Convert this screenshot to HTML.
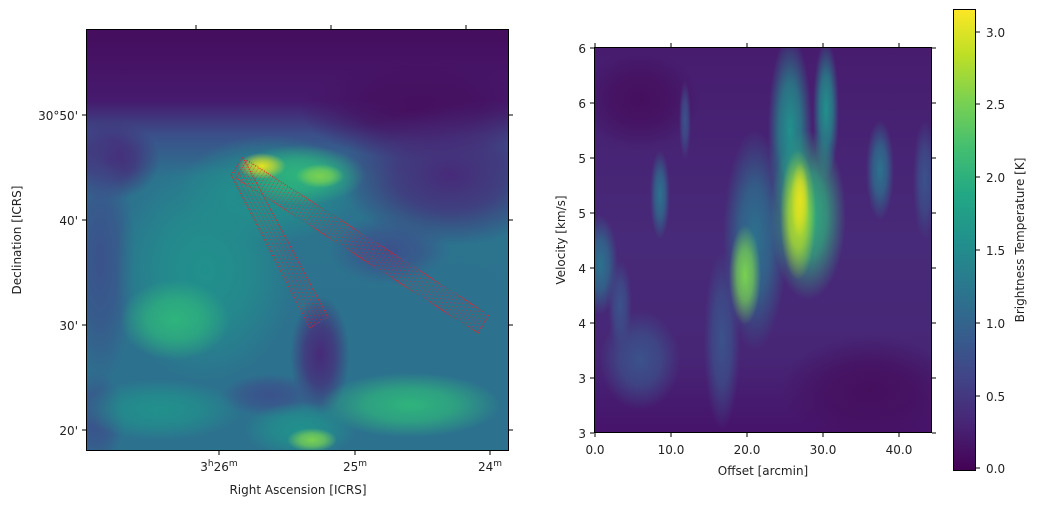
<!DOCTYPE html>
<html><head><meta charset="utf-8"><style>
body{margin:0;background:#fff;}
text{font-family:"DejaVu Sans","Liberation Sans",sans-serif;font-size:12px;fill:#222;}
</style></head><body>
<svg width="1037" height="506" viewBox="0 0 1037 506" xmlns="http://www.w3.org/2000/svg">
<defs>
<clipPath id="cl"><rect x="86" y="29" width="423" height="422"/></clipPath>
<clipPath id="cr"><rect x="594" y="47" width="338" height="386"/></clipPath>
<linearGradient id="cb" x1="0" y1="1" x2="0" y2="0">
<stop offset="0" stop-color="#440154"/><stop offset="0.1" stop-color="#482475"/><stop offset="0.2" stop-color="#414487"/>
<stop offset="0.3" stop-color="#355f8d"/><stop offset="0.4" stop-color="#2a788e"/><stop offset="0.5" stop-color="#21918c"/>
<stop offset="0.6" stop-color="#22a884"/><stop offset="0.7" stop-color="#44bf70"/><stop offset="0.8" stop-color="#7ad151"/>
<stop offset="0.9" stop-color="#bddf26"/><stop offset="1" stop-color="#fde725"/></linearGradient>
<linearGradient id="lbg" x1="0" y1="0" x2="0" y2="1">
<stop offset="0" stop-color="#450d5d"/><stop offset="0.17" stop-color="#461a6e"/><stop offset="0.25" stop-color="#3b4f8a"/><stop offset="0.35" stop-color="#2c738e"/><stop offset="1" stop-color="#2c728e"/></linearGradient>
<linearGradient id="rbg" x1="0" y1="0" x2="0" y2="1">
<stop offset="0" stop-color="#471c6f"/><stop offset="0.5" stop-color="#472a79"/><stop offset="0.8" stop-color="#472676"/><stop offset="1" stop-color="#46136a"/></linearGradient>
<radialGradient id="gDark"><stop offset="0" stop-color="#450f5e"/><stop offset="0.5" stop-color="#450f5e" stop-opacity="0.7"/><stop offset="1" stop-color="#450f5e" stop-opacity="0"/></radialGradient>
<radialGradient id="gPur"><stop offset="0" stop-color="#472a79"/><stop offset="0.5" stop-color="#472a79" stop-opacity="0.7"/><stop offset="1" stop-color="#472a79" stop-opacity="0"/></radialGradient>
<radialGradient id="gInd"><stop offset="0" stop-color="#3b528b"/><stop offset="0.5" stop-color="#3b528b" stop-opacity="0.7"/><stop offset="1" stop-color="#3b528b" stop-opacity="0"/></radialGradient>
<radialGradient id="gBlu"><stop offset="0" stop-color="#2c728e"/><stop offset="0.5" stop-color="#2c728e" stop-opacity="0.7"/><stop offset="1" stop-color="#2c728e" stop-opacity="0"/></radialGradient>
<radialGradient id="gTeal"><stop offset="0" stop-color="#21918c"/><stop offset="0.5" stop-color="#21918c" stop-opacity="0.7"/><stop offset="1" stop-color="#21918c" stop-opacity="0"/></radialGradient>
<radialGradient id="gGrn"><stop offset="0" stop-color="#2fb47c"/><stop offset="0.5" stop-color="#2fb47c" stop-opacity="0.7"/><stop offset="1" stop-color="#2fb47c" stop-opacity="0"/></radialGradient>
<radialGradient id="gLg"><stop offset="0" stop-color="#7ad151"/><stop offset="0.5" stop-color="#7ad151" stop-opacity="0.7"/><stop offset="1" stop-color="#7ad151" stop-opacity="0"/></radialGradient>
<radialGradient id="gYg"><stop offset="0" stop-color="#bddf26"/><stop offset="0.5" stop-color="#bddf26" stop-opacity="0.7"/><stop offset="1" stop-color="#bddf26" stop-opacity="0"/></radialGradient>
<radialGradient id="gYel"><stop offset="0" stop-color="#e6e21f"/><stop offset="0.5" stop-color="#e6e21f" stop-opacity="0.6"/><stop offset="1" stop-color="#e6e21f" stop-opacity="0"/></radialGradient>
<pattern id="hA" width="3.5" height="4" patternUnits="userSpaceOnUse" patternTransform="rotate(-28)"><line x1="0" y1="0" x2="0" y2="4" stroke="#ee1c24" stroke-width="1" stroke-dasharray="1,1"/></pattern>
<pattern id="hB" width="3.5" height="4" patternUnits="userSpaceOnUse" patternTransform="rotate(33)"><line x1="0" y1="0" x2="0" y2="4" stroke="#ee1c24" stroke-width="1" stroke-dasharray="1,1"/></pattern>
</defs>
<!-- left map -->
<g clip-path="url(#cl)">
<rect x="86" y="29" width="423" height="422" fill="url(#lbg)"/>
<ellipse cx="420" cy="110" rx="120" ry="50" fill="url(#gDark)"/>
<ellipse cx="450" cy="175" rx="110" ry="70" fill="url(#gPur)"/>
<ellipse cx="110" cy="160" rx="50" ry="40" fill="url(#gPur)"/>
<ellipse cx="100" cy="260" rx="35" ry="130" fill="url(#gInd)"/>
<ellipse cx="95" cy="420" rx="30" ry="50" fill="url(#gInd)"/>
<ellipse cx="205" cy="270" rx="90" ry="110" fill="url(#gTeal)"/>
<ellipse cx="175" cy="320" rx="55" ry="40" fill="url(#gGrn)"/>
<ellipse cx="270" cy="190" rx="90" ry="55" fill="url(#gTeal)"/>
<ellipse cx="300" cy="175" rx="65" ry="30" fill="url(#gGrn)"/>
<ellipse cx="390" cy="250" rx="60" ry="35" fill="url(#gInd)"/>
<ellipse cx="460" cy="300" rx="70" ry="50" fill="url(#gBlu)"/>
<ellipse cx="320" cy="355" rx="30" ry="60" fill="url(#gPur)"/>
<ellipse cx="270" cy="395" rx="50" ry="22" fill="url(#gInd)"/>
<ellipse cx="410" cy="405" rx="90" ry="32" fill="url(#gGrn)"/>
<ellipse cx="300" cy="430" rx="55" ry="28" fill="url(#gTeal)"/>
<ellipse cx="160" cy="410" rx="80" ry="30" fill="url(#gTeal)"/>
<ellipse cx="262" cy="166" rx="24" ry="13" fill="url(#gYel)"/>
<ellipse cx="320" cy="176" rx="24" ry="12" fill="url(#gLg)"/>
<ellipse cx="312" cy="440" rx="25" ry="12" fill="url(#gLg)"/>
<polygon points="231,175 243,157 328,317 310,328" fill="url(#hA)" stroke="#ee1c24" stroke-width="0.9" stroke-dasharray="1,1.5"/>
<polygon points="247,160 489,315 478,333 236,178" fill="url(#hB)" stroke="#ee1c24" stroke-width="0.9" stroke-dasharray="1,1.5"/>
</g>
<rect x="86.5" y="29.5" width="422" height="421" fill="none" stroke="#000" stroke-width="1"/>
<g stroke="#000" stroke-width="1">
<line x1="86" y1="115" x2="82" y2="115"/><line x1="86" y1="220" x2="82" y2="220"/><line x1="86" y1="325" x2="82" y2="325"/><line x1="86" y1="430" x2="82" y2="430"/>
<line x1="509" y1="115" x2="513" y2="115"/><line x1="509" y1="220" x2="513" y2="220"/><line x1="509" y1="325" x2="513" y2="325"/><line x1="509" y1="430" x2="513" y2="430"/>
<line x1="219" y1="451" x2="219" y2="455"/><line x1="355" y1="451" x2="355" y2="455"/><line x1="490" y1="451" x2="490" y2="455"/>
<line x1="196" y1="29" x2="196" y2="25"/><line x1="331" y1="29" x2="331" y2="25"/><line x1="466" y1="29" x2="466" y2="25"/>
</g>
<text x="78" y="120" text-anchor="end">30°50'</text>
<text x="78" y="225" text-anchor="end">40'</text>
<text x="78" y="330" text-anchor="end">30'</text>
<text x="78" y="435" text-anchor="end">20'</text>
<text x="219" y="471" text-anchor="middle">3<tspan font-size="9" dy="-5">h</tspan><tspan dy="5">26</tspan><tspan font-size="9" dy="-5">m</tspan></text>
<text x="355" y="471" text-anchor="middle">25<tspan font-size="9" dy="-5">m</tspan></text>
<text x="490" y="471" text-anchor="middle">24<tspan font-size="9" dy="-5">m</tspan></text>
<text x="298" y="494" text-anchor="middle">Right Ascension [ICRS]</text>
<text transform="translate(21,240) rotate(-90)" text-anchor="middle">Declination [ICRS]</text>
<!-- right PV -->
<g clip-path="url(#cr)">
<rect x="594" y="47" width="338" height="386" fill="url(#rbg)"/>
<ellipse cx="870" cy="390" rx="90" ry="55" fill="url(#gDark)"/>
<ellipse cx="640" cy="100" rx="60" ry="50" fill="url(#gDark)"/>
<ellipse cx="600" cy="265" rx="18" ry="50" fill="url(#gBlu)"/>
<ellipse cx="620" cy="305" rx="12" ry="45" fill="url(#gInd)"/>
<ellipse cx="640" cy="360" rx="40" ry="50" fill="url(#gInd)"/>
<ellipse cx="660" cy="195" rx="10" ry="45" fill="url(#gBlu)"/>
<ellipse cx="685" cy="120" rx="6" ry="40" fill="url(#gInd)"/>
<ellipse cx="722" cy="340" rx="18" ry="90" fill="url(#gInd)"/>
<ellipse cx="755" cy="240" rx="32" ry="110" fill="url(#gBlu)"/>
<ellipse cx="790" cy="130" rx="22" ry="95" fill="url(#gTeal)"/>
<ellipse cx="826" cy="110" rx="13" ry="70" fill="url(#gTeal)"/>
<ellipse cx="808" cy="215" rx="38" ry="85" fill="url(#gGrn)"/>
<ellipse cx="745" cy="275" rx="16" ry="50" fill="url(#gLg)"/>
<ellipse cx="798" cy="215" rx="18" ry="65" fill="url(#gYg)"/>
<ellipse cx="800" cy="200" rx="9" ry="38" fill="url(#gYel)"/>
<ellipse cx="880" cy="170" rx="14" ry="50" fill="url(#gBlu)"/>
<ellipse cx="925" cy="180" rx="12" ry="60" fill="url(#gInd)"/>
</g>
<rect x="594.5" y="47.5" width="337" height="385" fill="none" stroke="#000"/>
<g stroke="#000">
<line x1="594" y1="48" x2="590" y2="48"/><line x1="594" y1="103" x2="590" y2="103"/><line x1="594" y1="158" x2="590" y2="158"/><line x1="594" y1="213" x2="590" y2="213"/><line x1="594" y1="268" x2="590" y2="268"/><line x1="594" y1="323" x2="590" y2="323"/><line x1="594" y1="378" x2="590" y2="378"/><line x1="594" y1="433" x2="590" y2="433"/>
<line x1="932" y1="48" x2="936" y2="48"/><line x1="932" y1="103" x2="936" y2="103"/><line x1="932" y1="158" x2="936" y2="158"/><line x1="932" y1="213" x2="936" y2="213"/><line x1="932" y1="268" x2="936" y2="268"/><line x1="932" y1="323" x2="936" y2="323"/><line x1="932" y1="378" x2="936" y2="378"/><line x1="932" y1="433" x2="936" y2="433"/>
<line x1="595" y1="433" x2="595" y2="437"/><line x1="671" y1="433" x2="671" y2="437"/><line x1="747" y1="433" x2="747" y2="437"/><line x1="823" y1="433" x2="823" y2="437"/><line x1="899" y1="433" x2="899" y2="437"/>
<line x1="595" y1="47" x2="595" y2="43"/><line x1="671" y1="47" x2="671" y2="43"/><line x1="747" y1="47" x2="747" y2="43"/><line x1="823" y1="47" x2="823" y2="43"/><line x1="899" y1="47" x2="899" y2="43"/>
</g>
<g text-anchor="end">
<text x="586" y="53">6</text><text x="586" y="108">6</text><text x="586" y="163">5</text><text x="586" y="218">5</text><text x="586" y="273">4</text><text x="586" y="328">4</text><text x="586" y="383">3</text><text x="586" y="438">3</text>
</g>
<g text-anchor="middle">
<text x="595" y="454">0.0</text><text x="671" y="454">10.0</text><text x="747" y="454">20.0</text><text x="823" y="454">30.0</text><text x="899" y="454">40.0</text>
</g>
<text x="763" y="475" text-anchor="middle">Offset [arcmin]</text>
<text transform="translate(565,240) rotate(-90)" text-anchor="middle">Velocity [km/s]</text>
<!-- colorbar -->
<rect x="953" y="9" width="23" height="462" fill="url(#cb)"/>
<rect x="953.5" y="9.5" width="22" height="461" fill="none" stroke="#000"/>
<g stroke="#000">
<line x1="976" y1="32" x2="980" y2="32"/><line x1="976" y1="104" x2="980" y2="104"/><line x1="976" y1="177" x2="980" y2="177"/><line x1="976" y1="250" x2="980" y2="250"/><line x1="976" y1="323" x2="980" y2="323"/><line x1="976" y1="396" x2="980" y2="396"/><line x1="976" y1="468" x2="980" y2="468"/>
</g>
<text x="986" y="37">3.0</text><text x="986" y="109">2.5</text><text x="986" y="182">2.0</text><text x="986" y="255">1.5</text><text x="986" y="328">1.0</text><text x="986" y="401">0.5</text><text x="986" y="473">0.0</text>
<text transform="translate(1024,240) rotate(-90)" text-anchor="middle">Brightness Temperature [K]</text>
</svg>
</body></html>
